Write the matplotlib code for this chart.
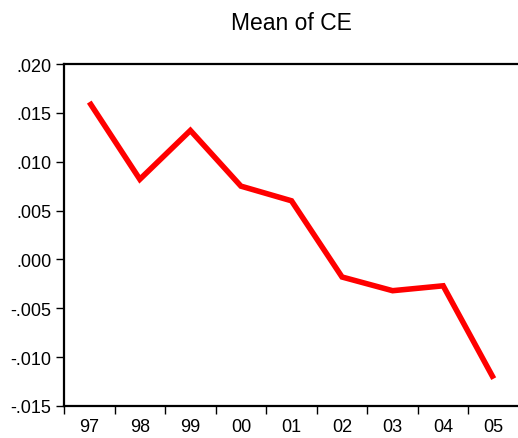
import numpy as np
import matplotlib.pyplot as plt

plt.rcParams['font.family'] = ['Liberation Sans', 'DejaVu Sans']

# mean of CE by year
years = ['97', '98', '99', '00', '01', '02', '03', '04', '05']
mean_ce = [0.0161, 0.0082, 0.0132, 0.0075, 0.0060, -0.0018, -0.0032, -0.0027, -0.0122]
yticks = [0.020, 0.015, 0.010, 0.005, 0.000, -0.005, -0.010, -0.015]
ylabels = ['.020', '.015', '.010', '.005', '.000', '-.005', '-.010', '-.015']

fig = plt.figure(figsize=(5.18, 4.39), dpi=100)
ax = fig.add_axes([64 / 518, 32 / 439, 455 / 518, 342 / 439])

x = np.arange(len(years))
ax.plot(x, mean_ce, color='#ff0000', linewidth=4, solid_capstyle='butt', solid_joinstyle='miter')

ax.set_xlim(-0.5, len(years) - 0.5)
ax.set_ylim(-0.015, 0.020)

# labels centred in each year, ticks on the boundaries
ax.set_xticks(x)
ax.set_xticklabels(years, fontsize=13)
ax.tick_params(axis='x', which='major', length=0, pad=9)
ax.set_xticks(np.arange(len(years) + 1) - 0.5, minor=True)
ax.tick_params(axis='x', which='minor', length=6, width=1, direction='out')

ax.set_yticks(yticks)
ax.set_yticklabels(ylabels, fontsize=13)
ax.tick_params(axis='y', length=6, width=1, direction='out', pad=3)

for side in ['left', 'bottom', 'top']:
    ax.spines[side].set_linewidth(1.6)
ax.spines['right'].set_visible(False)

ax.set_title('Mean of CE', fontsize=16.5, pad=25)

plt.savefig('out.png', dpi=100)
